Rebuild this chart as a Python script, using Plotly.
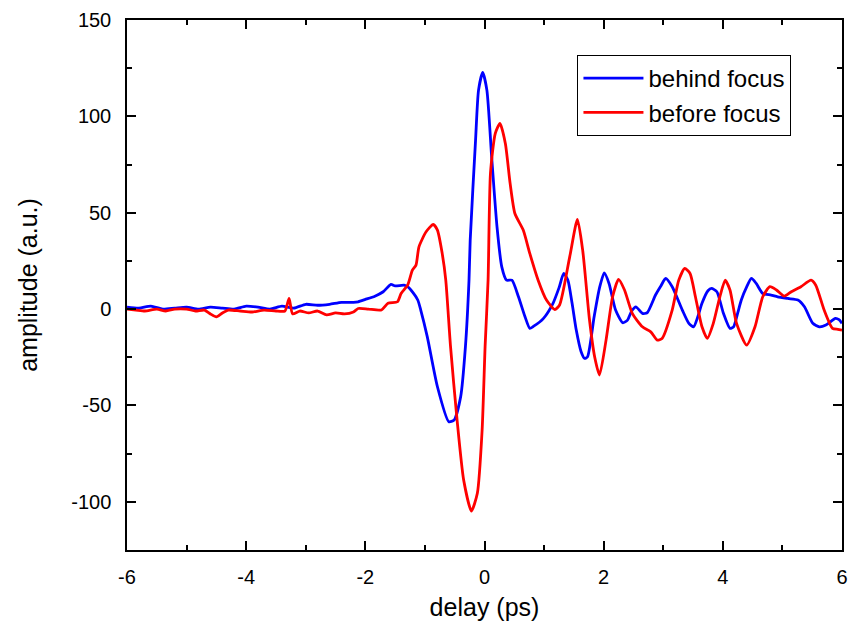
import plotly.graph_objects as go

# behind focus (blue)
behind_x = [-6.0, -5.8, -5.6, -5.4, -5.2, -5.0, -4.8, -4.6, -4.4, -4.2, -4.0, -3.8, -3.6, -3.4, -3.2,
            -3.0, -2.8, -2.6, -2.4, -2.2, -2.12, -2.0, -1.84, -1.7, -1.57, -1.5, -1.35, -1.29, -1.2,
            -1.12, -1.07, -0.96, -0.79, -0.6, -0.51, -0.40, -0.32, -0.26, -0.24, -0.15, -0.10, -0.03,
            0.04, 0.12, 0.21, 0.29, 0.37, 0.46, 0.57, 0.68, 0.76, 0.82, 0.99, 1.15, 1.25, 1.33, 1.40,
            1.47, 1.54, 1.62, 1.68, 1.73, 1.84, 1.93, 2.01, 2.09, 2.2, 2.32, 2.40, 2.47, 2.54, 2.65,
            2.73, 2.87, 2.96, 3.04, 3.15, 3.32, 3.43, 3.51, 3.58, 3.65, 3.75, 3.81, 3.90, 4.01, 4.12,
            4.18, 4.25, 4.31, 4.40, 4.48, 4.56, 4.67, 4.81, 4.92, 5.09, 5.26, 5.37, 5.51, 5.62, 5.73,
            5.89, 5.95, 6.0]
behind_y = [1, 0.5, 1.5, 0, 0.5, 1, 0, 1, 0.5, 0, 1.5, 1, 0, 1.5, 0.5,
            2.5, 2, 2.5, 3.5, 3.5, 3.8, 5, 6.7, 9, 12.8, 12, 12.4, 11.6, 8.5,
            4.7, -0.5, -14.4, -40.3, -58.4, -57.6, -45.5, -19.5, 15, 35.8, 87.7, 113.6, 122.8,
            113.6, 79, 42.7, 21.9, 15, 15, 6.4, -4, -10, -9, -4.8, 3, 11, 18.5, 15,
            3, -10.9, -22, -25.6, -24.7, -4, 11, 18.8, 13.3, -0.5, -7.1, -5.7, -1, 1.2, -2.2,
            -1.9, 7.3, 12, 15.9, 11.6, -0.5, -7.4, -9.2, -4, 3, 9.5, 10.7, 9, -2.2, -10,
            -9.2, -2, 4.7, 11.5, 15.9, 13.3, 8.1, 7.3, 6.4, 5.5, 4.7, 1.2, -7.4, -9.2, -8.3,
            -4.8, -5.5, -7.4]

# before focus (red)
before_x = [-6.0, -5.85, -5.7, -5.5, -5.35, -5.2, -5.0, -4.85, -4.7, -4.6, -4.5, -4.4, -4.3, -4.1,
            -3.9, -3.7, -3.5, -3.35, -3.28, -3.22, -3.1, -2.95, -2.8, -2.65, -2.5, -2.35, -2.2,
            -2.12, -1.95, -1.73, -1.62, -1.46, -1.40, -1.29, -1.21, -1.15, -1.10, -0.98, -0.86,
            -0.79, -0.71, -0.65, -0.57, -0.46, -0.35, -0.22, -0.12, -0.04, 0.01, 0.06, 0.10, 0.18,
            0.26, 0.35, 0.43, 0.51, 0.65, 0.76, 0.90, 1.04, 1.18, 1.26, 1.43, 1.56, 1.65, 1.76,
            1.85, 1.93, 2.04, 2.15, 2.25, 2.35, 2.48, 2.65, 2.79, 2.90, 2.98, 3.15, 3.26, 3.36,
            3.45, 3.54, 3.65, 3.74, 3.84, 3.95, 4.04, 4.12, 4.23, 4.40, 4.54, 4.67, 4.79, 4.90,
            5.03, 5.15, 5.31, 5.48, 5.56, 5.70, 5.84, 5.93, 6.0]
before_y = [0, -0.5, -1, 0, -1, 0, 0, -1, -0.5, -2.5, -4, -2, -0.5, -1,
            -1.5, -0.5, -1, -1, 5.5, -2.5, -1, -2, -1, -3, -2, -2.5, -1.5,
            0.3, 0, -0.5, 3, 3.8, 8.1, 12.4, 20.2, 22.8, 32.3, 40.1, 43.9,
            41, 28.9, 15, -19.5, -57.6, -88.7, -104.8, -95.6, -62.8, -19.5, 15, 70.4, 91.1,
            96.3, 85.9, 65.2, 49.6, 41, 28.9, 15, 4.7, -0.2, 2.1, 27.1, 46.5, 30, -5,
            -25, -34.2, -16.1, 6.4, 15.4, 9.9, -2.2, -9.2, -11.8, -16.1, -15.2, -0.5, 15, 21.1,
            18.5, 6.4, -9.2, -15.2, -7.4, 6.4, 15, 9.9, -7.4, -18.7, -9.2, 6.4, 11.6, 9.9,
            6.7, 9, 11.6, 15, 12.4, -0.5, -10, -10.5, -10.9]

x_ticks = [-6, -4, -2, 0, 2, 4, 6]
y_ticks = [-100, -50, 0, 50, 100, 150]

FONT = "Liberation Sans, Arial, sans-serif"

fig = go.Figure()
fig.add_trace(go.Scatter(x=behind_x, y=behind_y, mode="lines", name="behind focus",
                         line=dict(color="#0000FF", width=2.8, shape="spline", smoothing=0.6)))
fig.add_trace(go.Scatter(x=before_x, y=before_y, mode="lines", name="before focus",
                         line=dict(color="#FF0000", width=2.8, shape="spline", smoothing=0.6)))

axis_common = dict(showline=True, linecolor="black", linewidth=1.5, mirror="ticks",
                   ticks="inside", ticklen=9, tickwidth=1.5, tickcolor="black",
                   showgrid=False, zeroline=False,
                   tickfont=dict(family=FONT, size=20, color="black"))

fig.update_xaxes(range=[-6, 6], tickvals=x_ticks, ticktext=[str(v) for v in x_ticks],
                 minor=dict(ticks="inside", dtick=1, ticklen=5, tickwidth=1.5, tickcolor="black"),
                 title=dict(text="delay (ps)", font=dict(family=FONT, size=25, color="black"), standoff=12),
                 ticklabelstandoff=8, **axis_common)
fig.update_yaxes(range=[-125, 150], tickvals=y_ticks, ticktext=[str(v) for v in y_ticks],
                 minor=dict(ticks="inside", dtick=25, ticklen=5, tickwidth=1.5, tickcolor="black"),
                 title=dict(text="amplitude (a.u.)", font=dict(family=FONT, size=25, color="black"), standoff=26),
                 ticklabelstandoff=10, **axis_common)

fig.update_layout(
    width=855, height=630, autosize=False,
    margin=dict(l=127, r=7, t=20, b=80),
    paper_bgcolor="white", plot_bgcolor="white",
    showlegend=True,
    legend=dict(x=0.63, y=0.934, xanchor="left", yanchor="top",
                bordercolor="black", borderwidth=1, bgcolor="white",
                font=dict(family=FONT, size=24, color="black"),
                tracegroupgap=0, itemwidth=60),
)

fig.write_html("out.html")
